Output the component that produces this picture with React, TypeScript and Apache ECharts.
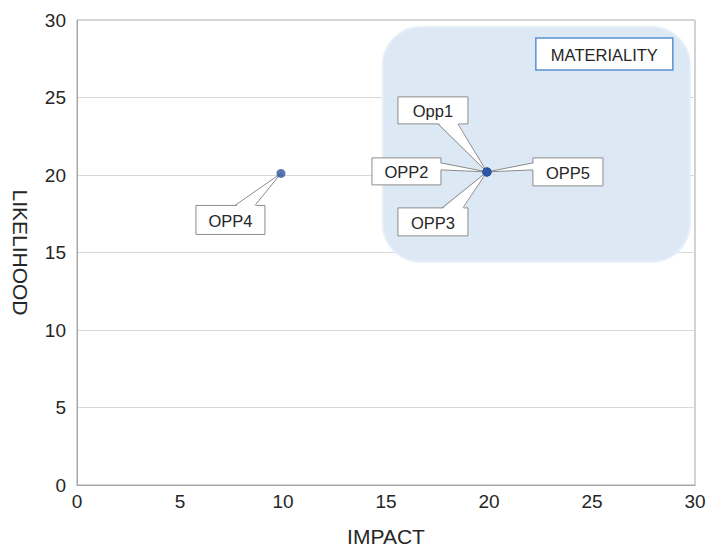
import React, { useEffect, useRef } from "react";
import * as echarts from "echarts";

// ---- data ----
const oppNames = ["Opp1", "OPP2", "OPP3", "OPP4", "OPP5"];
const impactValues = [19.9, 19.9, 19.9, 9.9, 19.9];
const likelihoodValues = [20.2, 20.2, 20.2, 20.1, 20.2];
const axisMin = 0;
const axisMax = 30;
const axisInterval = 5;
const materialityImpact = [14.85, 29.75];
const materialityLikelihood = [14.4, 29.55];
const materialityLabel = "MATERIALITY";
const xAxisName = "IMPACT";
const yAxisName = "LIKELIHOOD";

// ---- callout styling (pixel offsets relative to the point) ----
type Callout = { box: [number, number, number, number]; base: [number, number][] };
const calloutLayout: Record<string, Callout> = {
  Opp1: { box: [-89, -75, 70, 27], base: [[-49, -48], [-29, -48]] },
  OPP2: { box: [-115, -14, 69, 27], base: [[-46, -9], [-46, -2]] },
  OPP3: { box: [-89, 36, 70, 28], base: [[-45, 36], [-24, 36]] },
  OPP4: { box: [-85, 32, 69, 29], base: [[-46, 32], [-26, 32]] },
  OPP5: { box: [46, -14, 70, 28], base: [[46, -9], [46, -2]] },
};

const FONT = "'Liberation Sans', Arial, sans-serif";
const GREY = "#8c8c8c";

export default function App() {
  const ref = useRef<HTMLDivElement>(null);

  useEffect(() => {
    if (!ref.current) return;
    const chart = echarts.init(ref.current, undefined, { renderer: "svg" });

    const pointData = oppNames.map((n, i) => [impactValues[i], likelihoodValues[i], n]);

    const option: any = {
      animation: false,
      backgroundColor: "#ffffff",
      grid: {
        left: 77,
        right: 23,
        top: 20,
        bottom: 62,
        show: true,
        borderColor: "#a6a6a6",
        borderWidth: 1,
        backgroundColor: "transparent",
        containLabel: false,
        outerBoundsMode: "none",
      },
      xAxis: {
        type: "value",
        min: axisMin,
        max: axisMax,
        interval: axisInterval,
        name: xAxisName,
        nameLocation: "middle",
        nameGap: 41,
        nameTextStyle: { fontSize: 21, color: "#262626", fontFamily: FONT },
        axisLine: { show: true, lineStyle: { color: "#a6a6a6" } },
        axisTick: { show: false },
        axisLabel: { fontSize: 19, color: "#262626", fontFamily: FONT, margin: 7 },
        splitLine: { show: false },
      },
      yAxis: {
        type: "value",
        min: axisMin,
        max: axisMax,
        interval: axisInterval,
        name: yAxisName,
        nameLocation: "middle",
        nameRotate: -90,
        nameGap: 46,
        nameTextStyle: { fontSize: 21, color: "#262626", fontFamily: FONT },
        axisLine: { show: true, lineStyle: { color: "#a6a6a6" } },
        axisTick: { show: false },
        axisLabel: { fontSize: 19, color: "#262626", fontFamily: FONT, margin: 11 },
        splitLine: { show: true, lineStyle: { color: "#d9d9d9" } },
      },
      series: [
        {
          type: "custom",
          silent: true,
          clip: false,
          z: 1,
          data: [[materialityImpact[0], materialityLikelihood[0], materialityImpact[1], materialityLikelihood[1]]],
          renderItem: (params: any, api: any) => {
            const p0 = api.coord([api.value(0), api.value(1)]);
            const p1 = api.coord([api.value(2), api.value(3)]);
            const x = Math.min(p0[0], p1[0]);
            const y = Math.min(p0[1], p1[1]);
            const w = Math.abs(p1[0] - p0[0]);
            const h = Math.abs(p1[1] - p0[1]);
            const bw = 137;
            const bh = 32;
            const bx = x + w - 17 - bw;
            const by = y + 11;
            return {
              type: "group",
              children: [
                {
                  type: "rect",
                  shape: { x, y, width: w, height: h, r: 38 },
                  style: { fill: "#dde8f5", stroke: "#e6eef8", lineWidth: 2 },
                },
                {
                  type: "rect",
                  shape: { x: bx, y: by, width: bw, height: bh },
                  style: { fill: "#ffffff", stroke: "#5a8fd0", lineWidth: 1.5 },
                },
                {
                  type: "text",
                  style: {
                    x: bx + bw / 2,
                    y: by + bh / 2 + 1,
                    text: materialityLabel,
                    align: "center",
                    verticalAlign: "middle",
                    fill: "#262626",
                    fontSize: 16.5,
                    fontFamily: FONT,
                  },
                },
              ],
            };
          },
        },
        {
          type: "custom",
          silent: true,
          clip: false,
          z: 2,
          data: pointData,
          renderItem: (params: any, api: any) => {
            const name = oppNames[params.dataIndex];
            const lay = calloutLayout[name];
            const c = api.coord([api.value(0), api.value(1)]);
            const [bx, by, bw, bh] = lay.box;
            const b0 = [c[0] + lay.base[0][0], c[1] + lay.base[0][1]];
            const b1 = [c[0] + lay.base[1][0], c[1] + lay.base[1][1]];
            const dx = lay.base[0][0] === lay.base[1][0] ? (lay.base[0][0] < 0 ? -1.5 : 1.5) : 0;
            const dy = lay.base[0][1] === lay.base[1][1] ? (lay.base[0][1] < 0 ? -1.5 : 1.5) : 0;
            const i0 = [b0[0] + dx, b0[1] + dy];
            const i1 = [b1[0] + dx, b1[1] + dy];
            return {
              type: "group",
              children: [
                {
                  type: "rect",
                  shape: { x: c[0] + bx, y: c[1] + by, width: bw, height: bh },
                  style: { fill: "#ffffff", stroke: GREY, lineWidth: 1 },
                },
                {
                  type: "polygon",
                  shape: { points: [i0, i1, c] },
                  style: { fill: "#ffffff", stroke: null },
                },
                {
                  type: "line",
                  shape: { x1: b0[0], y1: b0[1], x2: c[0], y2: c[1] },
                  style: { stroke: GREY, lineWidth: 1 },
                },
                {
                  type: "line",
                  shape: { x1: b1[0], y1: b1[1], x2: c[0], y2: c[1] },
                  style: { stroke: GREY, lineWidth: 1 },
                },
                {
                  type: "text",
                  style: {
                    x: c[0] + bx + bw / 2,
                    y: c[1] + by + bh / 2 + 1,
                    text: name,
                    align: "center",
                    verticalAlign: "middle",
                    fill: "#262626",
                    fontSize: 16.5,
                    fontFamily: FONT,
                  },
                },
              ],
            };
          },
        },
        {
          type: "scatter",
          z: 3,
          symbol: "circle",
          symbolSize: 9,
          itemStyle: { color: "#2d55a0" },
          data: pointData,
        },
      ],
    };

    chart.setOption(option);
    return () => chart.dispose();
  }, []);

  return <div ref={ref} style={{ width: 718, height: 547, position: "absolute", left: 0, top: 0 }} />;
}
